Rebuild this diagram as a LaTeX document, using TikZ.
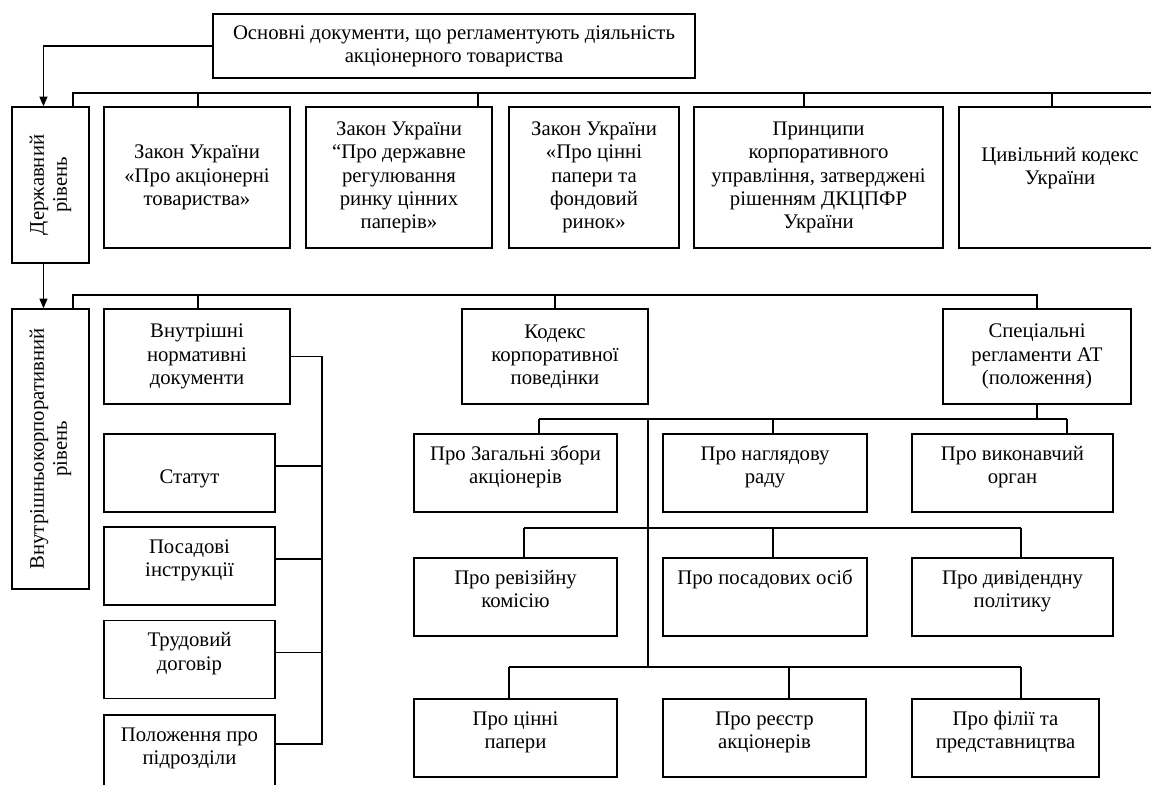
\documentclass[tikz,border=0pt]{standalone}
\usepackage{fontspec}
\setmainfont{Liberation Serif}
\usetikzlibrary{arrows.meta}

\begin{document}
\begin{tikzpicture}[x=0.02cm, y=-0.02cm, line width=0.8pt,
  box/.style={draw, align=center, inner sep=2pt, font=\fontsize{11.8}{13.2}\selectfont},
  rowbox/.style={box, inner ysep=0pt, text height=28.2pt, text depth=16.2pt},
  arr/.style={-{Triangle[length=5.5pt,width=4.5pt]}}]
 \useasboundingbox (0,0) rectangle (1151,784);

 \node[box, minimum width=9.64cm, minimum height=1.28cm] (top) at (454,46) {Основні документи, що регламентують діяльність\\акціонерного товариства}; % головний блок
 \node[box, rotate=90, minimum width=3.12cm, minimum height=1.54cm] (derzh) at (50.5,185) {Державний\\рівень}; % рівень 1
 \node[box, rotate=90, minimum width=5.6cm, minimum height=1.54cm] (inner) at (50.5,449) {Внутрішньокорпоративний\\рівень}; % рівень 2

 \node[box, minimum width=3.72cm, minimum height=2.82cm] (law1) at (197,177.5) {Закон України\\«Про акціонерні\\товариства»};
 \node[box, minimum width=3.72cm, minimum height=2.82cm] (law2) at (399,177.5) {Закон України\\“Про державне\\регулювання\\ринку цінних\\паперів»};
 \node[box, minimum width=3.40cm, minimum height=2.82cm] (law3) at (594,177.5) {Закон України\\«Про цінні\\папери та\\фондовий\\ринок»};
 \node[box, minimum width=4.98cm, minimum height=2.82cm] (law4) at (818.5,177.5) {Принципи\\корпоративного\\управління, затверджені\\рішенням ДКЦПФР\\України};
 \node[box, minimum width=4.04cm, minimum height=2.82cm] (law5) at (1060,177.5) {Цивільний кодекс\\України\\~};

 \node[box, minimum width=3.72cm, minimum height=1.9cm] (vnutr) at (197,356.5) {Внутрішні\\нормативні\\документи};
 \node[box, minimum width=3.72cm, minimum height=1.9cm] (kodeks) at (555,356.5) {Кодекс\\корпоративної\\поведінки};
 \node[box, minimum width=3.76cm, minimum height=1.9cm] (spec) at (1037,356.5) {Спеціальні\\регламенти АТ\\(положення)};

 \node[rowbox, minimum width=3.42cm] (statut) at (189.5,473) {~\\Статут};
 \node[rowbox, minimum width=3.42cm] (posad) at (189.5,566) {Посадові\\інструкції};
 \node[rowbox, minimum width=3.42cm] (trud) at (189.5,659.5) {Трудовий\\договір};
 \node[rowbox, minimum width=3.42cm, text depth=23pt] (polozh) at (189.5,760) {Положення про\\підрозділи};

 \node[rowbox, minimum width=4.06cm] (zag) at (515.5,473) {Про Загальні збори\\акціонерів};
 \node[rowbox, minimum width=4.08cm] (nagl) at (765,473) {Про наглядову\\раду};
 \node[rowbox, minimum width=4.02cm] (vykon) at (1012.5,473) {Про виконавчий\\орган};
 \node[rowbox, minimum width=4.06cm] (reviz) at (515.5,597) {Про ревізійну\\комісію};
 \node[rowbox, minimum width=4.08cm, text height=15pt, text depth=29.4pt] (posos) at (765,597) {Про посадових осіб};
 \node[rowbox, minimum width=4.02cm] (divid) at (1012.5,597) {Про дивідендну\\політику};
 \node[rowbox, minimum width=4.06cm] (cinni) at (515.5,738) {Про цінні\\папери};
 \node[rowbox, minimum width=4.06cm] (reestr) at (764.5,738) {Про реєстр\\акціонерів};
 \node[rowbox, minimum width=3.74cm] (filii) at (1005.5,738) {Про філії та\\представництва};

 \coordinate (b1) at (73,93); \coordinate (b1e) at (1151,93); % шина державного рівня
 \coordinate (b2) at (73,295); \coordinate (b2e) at (1037,295); % шина внутрішнього рівня
 \coordinate (br) at (322,744); % права скоба
 \coordinate (r1) at (539,419); \coordinate (r1e) at (1067,419); % ряд 1
 \coordinate (r2) at (524,528); \coordinate (r2e) at (1021,528); % ряд 2
 \coordinate (r3) at (509,667); \coordinate (r3e) at (1021,667); % ряд 3
 \coordinate (t1) at (648,419); \coordinate (t2) at (648,667); % стовбур

 \draw[arr] (top.west) -| ([xshift=-4pt]derzh.east);
 \draw[arr] ([xshift=-4pt]derzh.west) -- ([xshift=-4pt]inner.east);

 \draw (b1e) -- (b1) -- (b1 |- derzh.east);
 \foreach \x/\n in {198/law1,478/law2,804/law4,1052/law5}
  \draw (\x,93) -- (\x,93 |- \n.north);

 \draw (b2 |- inner.east) -- (b2) -- (b2e) -- (spec.north);
 \foreach \x/\n in {198/vnutr,555/kodeks}
  \draw (\x,295) -- (\x,295 |- \n.north);

 \draw (vnutr.east) -| (br) -- ++(-47,0);
 \foreach \n in {statut,posad,trud}
  \draw ([yshift=4pt]\n.east) -- ++(47,0);

 \draw (spec.south) -- (spec.south |- r1);
 \draw (r1) -- (r1e);
 \foreach \x/\n in {539/zag,773/nagl,1067/vykon}
  \draw (\x,419) -- (\x,419 |- \n.north);
 \draw (t1) -- (t2);
 \draw (r2) -- (r2e);
 \foreach \x/\n in {524/reviz,773/posos,1021/divid}
  \draw (\x,528) -- (\x,528 |- \n.north);
 \draw (r3) -- (r3e);
 \foreach \x/\n in {509/cinni,789/reestr,1021/filii}
  \draw (\x,667) -- (\x,667 |- \n.north);
\end{tikzpicture}
\end{document}
